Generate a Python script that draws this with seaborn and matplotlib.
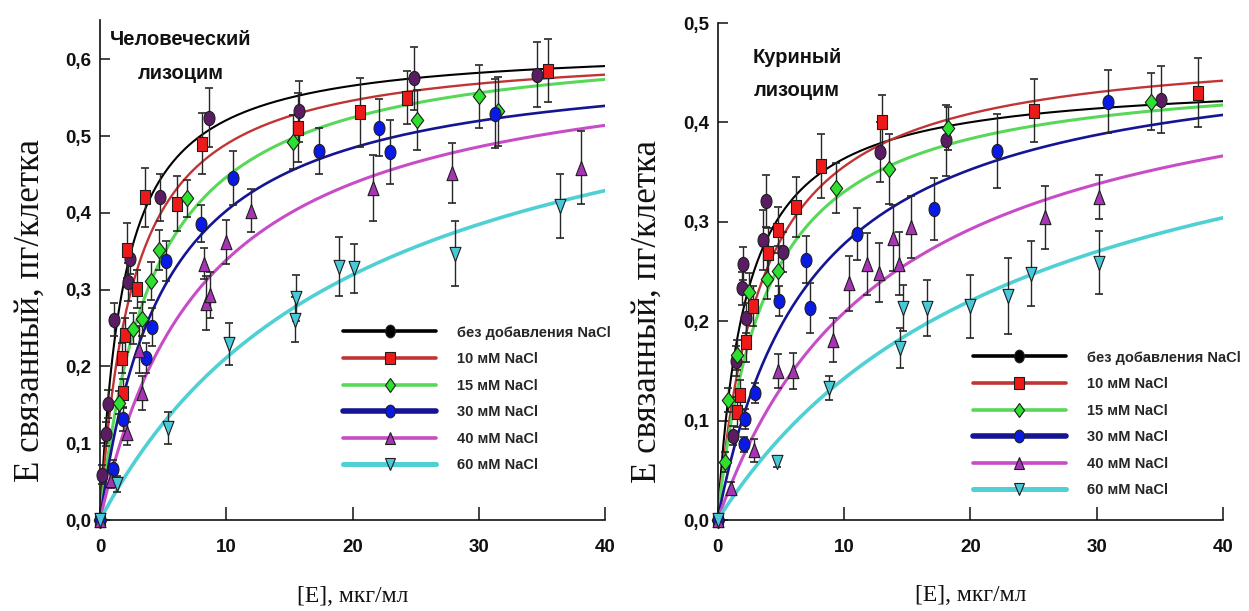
import numpy as np
import matplotlib
matplotlib.use("Agg")
import matplotlib.pyplot as plt
import matplotlib.font_manager as fm
from matplotlib.font_manager import FontProperties
from matplotlib.lines import Line2D
from matplotlib.markers import MarkerStyle
from matplotlib.transforms import Affine2D
import seaborn as sns

# ---------------- data ----------------
series_labels = ["без добавления NaCl", "10 мМ NaCl", "15 мМ NaCl",
                 "30 мМ NaCl", "40 мМ NaCl", "60 мМ NaCl"]

# Human lysozyme: free concentration (ug/ml), bound amount (pg/cell), error
hum_x_0 = [0, 0.13, 0.45, 0.65, 1.1, 2.2, 2.4, 4.75, 8.6, 15.75, 24.9, 34.6]
hum_y_0 = [0, 0.059, 0.112, 0.151, 0.261, 0.310, 0.340, 0.420, 0.524, 0.532, 0.575, 0.580]
hum_e_0 = [0, 0.012, 0.015, 0.018, 0.022, 0.025, 0.020, 0.031, 0.038, 0.040, 0.041, 0.042]

hum_x_10 = [0, 1.75, 1.8, 2.0, 2.1, 2.9, 3.6, 6.1, 8.05, 15.7, 20.6, 24.3, 35.5]
hum_y_10 = [0, 0.211, 0.165, 0.241, 0.351, 0.301, 0.420, 0.412, 0.490, 0.511, 0.531, 0.550, 0.585]
hum_e_10 = [0, 0.020, 0.018, 0.022, 0.036, 0.025, 0.038, 0.036, 0.040, 0.045, 0.045, 0.035, 0.041]

hum_x_15 = [0, 1.5, 2.6, 3.3, 4.05, 4.7, 6.9, 15.3, 25.1, 30.0, 31.5]
hum_y_15 = [0, 0.153, 0.249, 0.262, 0.311, 0.352, 0.419, 0.492, 0.521, 0.552, 0.532]
hum_e_15 = [0, 0.015, 0.020, 0.022, 0.025, 0.026, 0.024, 0.035, 0.039, 0.041, 0.045]

hum_x_30 = [0, 1.0, 1.85, 3.65, 4.1, 5.25, 8.0, 10.5, 17.35, 22.1, 23.0, 31.3]
hum_y_30 = [0, 0.066, 0.131, 0.211, 0.251, 0.337, 0.386, 0.445, 0.480, 0.511, 0.479, 0.529]
hum_e_30 = [0, 0.012, 0.015, 0.020, 0.025, 0.026, 0.024, 0.035, 0.030, 0.037, 0.042, 0.045]

hum_x_40 = [0, 0.85, 2.1, 3.05, 3.3, 8.25, 8.4, 8.7, 10.0, 11.95, 21.6, 27.9, 38.1]
hum_y_40 = [0, 0.052, 0.113, 0.222, 0.165, 0.334, 0.283, 0.293, 0.362, 0.403, 0.432, 0.452, 0.459]
hum_e_40 = [0, 0.010, 0.015, 0.030, 0.022, 0.020, 0.035, 0.030, 0.028, 0.028, 0.043, 0.039, 0.047]

hum_x_60 = [0, 1.35, 5.35, 10.2, 15.45, 15.55, 18.9, 20.1, 28.1, 36.4]
hum_y_60 = [0, 0.047, 0.120, 0.229, 0.261, 0.289, 0.330, 0.328, 0.347, 0.409]
hum_e_60 = [0, 0.010, 0.021, 0.027, 0.029, 0.030, 0.038, 0.032, 0.042, 0.042]

# Saturation fit parameters (Bmax, Kd) for the human lysozyme curves
hum_bmax = [0.619, 0.618, 0.634, 0.608, 0.621, 0.653]
hum_kd = [1.89, 2.63, 4.2, 5.1, 8.34, 20.9]

# Hen egg-white lysozyme
chk_x_0 = [0, 1.25, 1.45, 1.9, 2.05, 2.25, 3.6, 3.8, 5.15, 12.85, 18.1, 35.1]
chk_y_0 = [0, 0.085, 0.160, 0.233, 0.258, 0.203, 0.282, 0.321, 0.270, 0.370, 0.382, 0.423]
chk_e_0 = [0, 0.010, 0.015, 0.017, 0.017, 0.015, 0.030, 0.026, 0.020, 0.030, 0.036, 0.034]

chk_x_10 = [0, 1.55, 1.8, 2.25, 2.8, 4.0, 4.8, 6.2, 8.2, 13.05, 25.05, 38.0]
chk_y_10 = [0, 0.109, 0.126, 0.179, 0.215, 0.269, 0.292, 0.315, 0.356, 0.400, 0.412, 0.430]
chk_e_10 = [0, 0.015, 0.015, 0.020, 0.020, 0.025, 0.023, 0.030, 0.032, 0.028, 0.032, 0.035]

chk_x_15 = [0, 0.55, 0.8, 1.5, 2.45, 3.95, 4.8, 9.4, 13.6, 18.2, 34.3]
chk_y_15 = [0, 0.058, 0.121, 0.166, 0.229, 0.242, 0.2505, 0.334, 0.353, 0.394, 0.421]
chk_e_15 = [0, 0.010, 0.012, 0.015, 0.020, 0.020, 0.025, 0.025, 0.035, 0.022, 0.029]

chk_x_30 = [0, 2.1, 2.2, 3.0, 4.9, 7.0, 7.35, 11.0, 17.15, 22.15, 30.9]
chk_y_30 = [0, 0.076, 0.102, 0.128, 0.220, 0.262, 0.213, 0.288, 0.313, 0.371, 0.421]
chk_e_30 = [0, 0.008, 0.010, 0.010, 0.015, 0.024, 0.025, 0.026, 0.031, 0.037, 0.032]

chk_x_40 = [0, 1.05, 2.9, 4.75, 6.0, 9.15, 10.4, 11.85, 12.8, 13.85, 14.35, 15.3, 25.9, 30.15]
chk_y_40 = [0, 0.032, 0.070, 0.150, 0.150, 0.181, 0.238, 0.2575, 0.249, 0.284, 0.258, 0.295, 0.3045, 0.325]
chk_e_40 = [0, 0.006, 0.012, 0.017, 0.018, 0.022, 0.028, 0.031, 0.030, 0.033, 0.032, 0.031, 0.032, 0.022]

chk_x_60 = [0, 4.7, 8.8, 14.4, 14.65, 16.55, 19.95, 22.95, 24.8, 30.15]
chk_y_60 = [0, 0.058, 0.133, 0.173, 0.213, 0.213, 0.215, 0.2255, 0.248, 0.259]
chk_e_60 = [0, 0.005, 0.012, 0.020, 0.023, 0.028, 0.032, 0.038, 0.033, 0.032]

chk_bmax = [0.445, 0.481, 0.458, 0.483, 0.49, 0.49]
chk_kd = [2.24, 3.53, 3.88, 7.4, 13.5, 24.45]

x_ticks = [0, 10, 20, 30, 40]
x_tick_labels = ["0", "10", "20", "30", "40"]
hum_y_ticks = [0.0, 0.1, 0.2, 0.3, 0.4, 0.5, 0.6]
hum_y_tick_labels = ["0,0", "0,1", "0,2", "0,3", "0,4", "0,5", "0,6"]
chk_y_ticks = [0.0, 0.1, 0.2, 0.3, 0.4, 0.5]
chk_y_tick_labels = ["0,0", "0,1", "0,2", "0,3", "0,4", "0,5"]

hum_titles = ["Человеческий", "лизоцим"]
chk_titles = ["Куриный", "лизоцим"]
x_label = "[E], мкг/мл"
y_label = "E связанный, пг/клетка"

# ---------------- styles ----------------
sns.set_theme(style="ticks")
names = {f.name for f in fm.fontManager.ttflist}
SANS = "Liberation Sans Narrow" if "Liberation Sans Narrow" in names else "Liberation Sans"
SERIF = "Liberation Serif"
plt.rcParams["font.family"] = [SANS, "DejaVu Sans"]

line_colors = ["#000000", "#c23434", "#58d858", "#141494", "#c84cc8", "#4fd0d4"]
line_widths = [1.5, 1.7, 2.2, 1.9, 2.2, 2.6]
legend_widths = [2.6, 2.6, 2.6, 4.0, 2.6, 3.6]
face_colors = ["#5a1c62", "#ee1a1a", "#2ee02e", "#0a1ae6", "#a634b4", "#48c8d8"]
legend_faces = ["#000000", "#ee1a1a", "#2ee02e", "#0a1ae6", "#a634b4", "#48c8d8"]
stretch = Affine2D().scale(1.0, 1.3)
marker_kinds = ["o", "s", "D", "o", "^", "v"]
marker_sizes = [62, 52, 40, 62, 62, 62]
legend_msizes = [7, 6.5, 5.5, 7, 6.5, 6.5]
edge = "#1e1e1e"


def marker_style(kind):
    return MarkerStyle(kind, transform=stretch)


def draw_panel(ax, xs, ys, es, bmax, kd, ymax, yticks, yticklabels, titles,
               title_pos, legend_anchor):
    xfit = np.linspace(0, 40, 500)
    for i in range(6):
        yfit = bmax[i] * xfit / (kd[i] + xfit)
        sns.lineplot(x=xfit, y=yfit, ax=ax, color=line_colors[i],
                     lw=line_widths[i], zorder=2, legend=False)
    for i in range(6):
        ax.errorbar(xs[i], ys[i], yerr=es[i], fmt="none", ecolor="#262626",
                    elinewidth=1.0, capsize=3.2, capthick=1.2, zorder=3,
                    clip_on=False)
    for i in range(6):
        sns.scatterplot(x=xs[i], y=ys[i], ax=ax, marker=marker_style(marker_kinds[i]),
                        s=marker_sizes[i], color=face_colors[i], edgecolor=edge,
                        linewidth=0.8, zorder=4, clip_on=False, legend=False)

    ax.set_xlim(0, 40)
    ax.set_ylim(0, ymax)
    sns.despine(ax=ax)
    for side in ("left", "bottom"):
        ax.spines[side].set_linewidth(1.2)
        ax.spines[side].set_color("#111111")
    ax.set_xticks(x_ticks)
    ax.set_xticklabels(x_tick_labels, fontfamily=SANS, fontweight="bold", fontsize=13.5)
    ax.set_yticks(yticks)
    ax.set_yticklabels(yticklabels, fontfamily=SANS, fontweight="bold", fontsize=13.5)
    ax.tick_params(axis="x", direction="in", length=9.5, width=1.1, pad=14, colors="#111111")
    ax.tick_params(axis="y", direction="in", length=7.5, width=1.1, pad=6, colors="#111111")

    ax.set_xlabel(x_label, fontfamily=SERIF, fontsize=17, color="#111111")
    ax.xaxis.label.set_va("center")
    ax.xaxis.set_label_coords(0.5, -0.152)
    ax.set_ylabel(y_label, fontfamily=SERIF, fontsize=25, color="#111111")
    ax.yaxis.label.set_va("center")
    ax.yaxis.set_label_coords(-0.139, 0.42)

    for t, (tx, ty) in zip(titles, title_pos):
        ax.text(tx, ty, t, transform=ax.transAxes, ha="center", va="center",
                fontfamily=SANS, fontweight="bold", fontsize=14.5, color="#111111")

    handles = [Line2D([], [], color=line_colors[i], lw=legend_widths[i],
                      marker=marker_style(marker_kinds[i]), markersize=legend_msizes[i],
                      markerfacecolor=legend_faces[i], markeredgecolor=edge,
                      markeredgewidth=0.8)
               for i in range(6)]
    ax.legend(handles, series_labels, loc="upper left", bbox_to_anchor=legend_anchor,
              frameon=False, numpoints=1,
              prop=FontProperties(family=SANS, weight="bold", size=10.5),
              handlelength=6.4, handletextpad=1.4, labelspacing=0.86,
              borderpad=0, borderaxespad=0)


fig = plt.figure(figsize=(12.49, 6.11), dpi=100)
fig.patch.set_facecolor("white")
ax_h = fig.add_axes([0.0801, 0.1489, 0.4043, 0.8183])
ax_c = fig.add_axes([0.5745, 0.1489, 0.4047, 0.8134])

draw_panel(ax_h,
           [hum_x_0, hum_x_10, hum_x_15, hum_x_30, hum_x_40, hum_x_60],
           [hum_y_0, hum_y_10, hum_y_15, hum_y_30, hum_y_40, hum_y_60],
           [hum_e_0, hum_e_10, hum_e_15, hum_e_30, hum_e_40, hum_e_60],
           hum_bmax, hum_kd, 0.651, hum_y_ticks, hum_y_tick_labels,
           hum_titles, [(0.160, 0.962), (0.160, 0.894)], (0.481, 0.389))

draw_panel(ax_c,
           [chk_x_0, chk_x_10, chk_x_15, chk_x_30, chk_x_40, chk_x_60],
           [chk_y_0, chk_y_10, chk_y_15, chk_y_30, chk_y_40, chk_y_60],
           [chk_e_0, chk_e_10, chk_e_15, chk_e_30, chk_e_40, chk_e_60],
           chk_bmax, chk_kd, 0.5, chk_y_ticks, chk_y_tick_labels,
           chk_titles, [(0.157, 0.930), (0.157, 0.865)], (0.505, 0.341))

fig.savefig("out.png", dpi=100, facecolor="white")
